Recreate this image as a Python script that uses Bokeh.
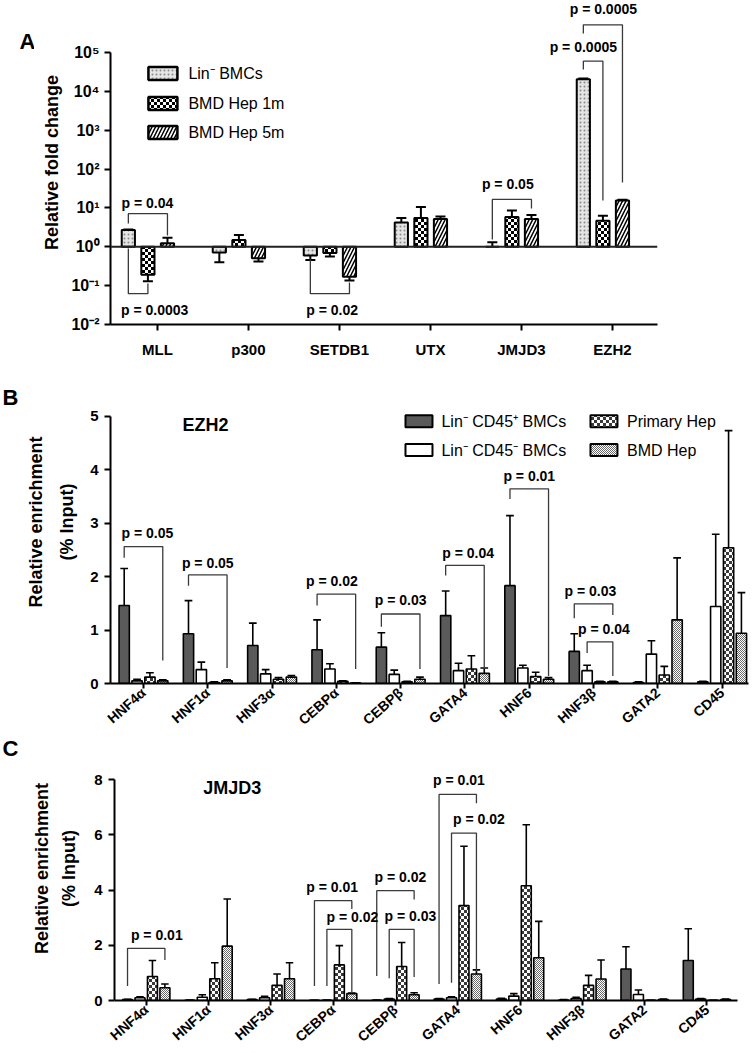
import base64
from bokeh.plotting import figure
from bokeh.models import Range1d, FixedTicker, Span, ImageURLTexture
from bokeh.layouts import column, row
from bokeh.embed import file_html
from bokeh.resources import INLINE
from bokeh.core.properties import value

FONT = "Liberation Sans"

# ---------------- Panel A data ----------------
a_targets = ["MLL", "p300", "SETDB1", "UTX", "JMJD3", "EZH2"]
a_series = ["Lin⁻ BMCs", "BMD Hep 1m", "BMD Hep 5m"]
a_lin = [2.7, 0.71, 0.60, 4.2, 1.0, 20400]
a_lin_err = [2.8, 0.40, 0.46, 5.5, 1.3, 21500]
a_1m = [0.19, 1.5, 0.69, 5.5, 5.8, 4.7]
a_1m_err = [0.13, 2.0, 0.56, 10.5, 8.6, 6.3]
a_5m = [1.24, 0.51, 0.17, 5.2, 5.2, 15.5]
a_5m_err = [1.7, 0.42, 0.135, 6.0, 6.6, 16.2]
a_yticks = [1e-2, 1e-1, 1e0, 1e1, 1e2, 1e3, 1e4, 1e5]
a_ylabels = ["10⁻²", "10⁻¹", "10⁰", "10¹", "10²", "10³", "10⁴", "10⁵"]
# brackets: (group, bar_from, bar_to, y_level, y_left_end, y_right_end)
a_brackets = [(0, 0, 2, 7.1, 4.0, 1.95), (0, 0, 1, 0.062, 0.9, 0.114),
              (2, 0, 2, 0.062, 0.48, 0.12), (4, 0, 2, 16.5, 1.54, 9.7),
              (5, 0, 1, 59700, 36500, 15.5), (5, 0, 2, 516000, 308000, 45)]
a_pvals = ["p = 0.04", "p = 0.0003", "p = 0.02", "p = 0.05", "p = 0.0005", "p = 0.0005"]
a_ptext_x = [-0.11, -0.03, 1.92, 3.85, 4.68, 4.90]
a_ptext_y = [13, 0.023, 0.023, 42, 137000, 1.35e6]
a_leg_y = [28800, 4860, 873]

# ---------------- Panel B / C data ----------------
genes = ["HNF4α", "HNF1α", "HNF3α", "CEBPα", "CEBPβ", "GATA4", "HNF6", "HNF3β", "GATA2", "CD45"]
bc_series = ["Lin⁻ CD45⁺ BMCs", "Lin⁻ CD45⁻ BMCs", "Primary Hep", "BMD Hep"]

b_pos = [1.46, 0.93, 0.71, 0.63, 0.68, 1.27, 1.83, 0.60, 0.02, 0.03]
b_pos_err = [2.15, 1.55, 1.13, 1.19, 0.95, 1.73, 3.14, 0.93, 0.03, 0.04]
b_neg = [0.05, 0.26, 0.18, 0.27, 0.17, 0.24, 0.29, 0.24, 0.55, 1.44]
b_neg_err = [0.08, 0.40, 0.26, 0.37, 0.25, 0.38, 0.34, 0.34, 0.80, 2.79]
b_prim = [0.12, 0.02, 0.08, 0.04, 0.03, 0.27, 0.13, 0.03, 0.16, 2.54]
b_prim_err = [0.20, 0.03, 0.11, 0.05, 0.04, 0.52, 0.21, 0.04, 0.32, 4.73]
b_bmd = [0.05, 0.05, 0.12, 0.01, 0.08, 0.19, 0.08, 0.03, 1.19, 0.94]
b_bmd_err = [0.07, 0.07, 0.15, 0.015, 0.12, 0.29, 0.11, 0.04, 2.35, 1.70]
b_yticks = [0, 1, 2, 3, 4, 5]
b_brackets = [(0, 0, 3, 2.56, 2.35, 0.43), (1, 0, 3, 2.03, 1.83, 0.29),
              (3, 0, 3, 1.67, 1.46, 0.27), (4, 0, 3, 1.30, 1.06, 0.27),
              (5, 0, 3, 2.21, 2.02, 0.27), (6, 0, 3, 3.64, 3.45, 0.14),
              (7, 0, 3, 1.49, 1.22, 1.28), (7, 1, 3, 0.78, 0.57, 0.14)]
b_pvals = ["p = 0.05", "p = 0.05", "p = 0.02", "p = 0.03", "p = 0.04", "p = 0.01", "p = 0.03", "p = 0.04"]
b_ptext_x = [0.06, 1.0, 2.93, 4.0, 5.05, 6.0, 6.95, 7.16]
b_ptext_y = [2.81, 2.26, 1.91, 1.56, 2.44, 3.88, 1.73, 1.01]
b_leg_y = [4.904, 4.365]

c_pos = [0.03, 0.01, 0.03, 0.005, 0.01, 0.05, 0.05, 0.02, 1.14, 1.45]
c_pos_err = [0.04, 0.02, 0.04, 0.01, 0.02, 0.07, 0.08, 0.03, 1.95, 2.60]
c_neg = [0.10, 0.12, 0.10, 0.01, 0.05, 0.10, 0.16, 0.07, 0.22, 0.05]
c_neg_err = [0.13, 0.21, 0.15, 0.02, 0.07, 0.13, 0.25, 0.12, 0.38, 0.07]
c_prim = [0.87, 0.79, 0.55, 1.29, 1.23, 3.44, 4.16, 0.55, 0.005, 0.005]
c_prim_err = [1.45, 1.37, 0.96, 1.99, 2.10, 5.59, 6.37, 0.91, 0.01, 0.01]
c_bmd = [0.46, 1.97, 0.79, 0.25, 0.21, 0.96, 1.55, 0.78, 0.03, 0.03]
c_bmd_err = [0.60, 3.68, 1.37, 0.27, 0.28, 1.11, 2.87, 1.47, 0.05, 0.05]
c_yticks = [0, 2, 4, 6, 8]
c_brackets = [(0, 0, 3, 1.89, 0.53, 1.47), (3, 0, 3, 3.62, 0.53, 3.32),
              (3, 1, 3, 2.58, 0.53, 0.28), (4, 0, 3, 3.98, 0.89, 3.66),
              (4, 1, 3, 2.58, 0.81, 0.85), (5, 0, 3, 7.47, 0.60, 7.15),
              (5, 1, 3, 6.07, 0.64, 1.05)]
c_pvals = ["p = 0.01", "p = 0.01", "p = 0.02", "p = 0.02", "p = 0.03", "p = 0.01", "p = 0.02"]
c_ptext_x = [0.17, 2.985, 3.31, 4.08, 4.24, 5.02, 5.34]
c_ptext_y = [2.37, 4.1, 3.03, 4.46, 3.06, 7.98, 6.57]

panel_letters = ["A", "B", "C"]


# ---------------- textures ----------------
def checker_tex(cell, color):
    s = cell * 2
    svg = (f"<svg xmlns='http://www.w3.org/2000/svg' width='{s}' height='{s}'>"
           f"<rect width='{s}' height='{s}' fill='white'/>"
           f"<rect width='{cell}' height='{cell}' fill='{color}'/>"
           f"<rect x='{cell}' y='{cell}' width='{cell}' height='{cell}' fill='{color}'/></svg>")
    return ImageURLTexture(url="data:image/svg+xml;base64," + base64.b64encode(svg.encode()).decode())


TEX_A = checker_tex(3, "black")
TEX_PRIM = checker_tex(3, "#3a3a3a")
TEX_BMD = checker_tex(1, "#6a6a6a")


def style_axes(p, tick_fs, xlabel_fs):
    for ax in [p.xaxis[0], p.yaxis[0]]:
        ax.axis_line_width = 2
        ax.axis_line_color = "black"
        ax.major_tick_line_width = 2
        ax.major_tick_line_color = "black"
        ax.major_tick_in = 0
        ax.major_tick_out = 6
        ax.minor_tick_line_color = None
        ax.major_label_text_font = FONT
        ax.major_label_text_font_style = "bold"
        ax.major_label_text_color = "black"
        ax.axis_label_text_font = FONT
        ax.axis_label_text_font_style = "bold"
        ax.axis_label_text_color = "black"
        ax.axis_label_text_font_size = "18px"
    p.yaxis[0].major_label_text_font_size = tick_fs
    p.xaxis[0].major_label_text_font_size = xlabel_fs
    p.xgrid.grid_line_color = None
    p.ygrid.grid_line_color = None
    p.outline_line_color = None
    p.background_fill_color = "white"
    p.border_fill_color = "white"


def add_series(p, vals, errs, offset, width, base, cap, lw, style):
    xs = [i + offset for i in range(len(vals))]
    r = p.vbar(x=xs, top=vals, bottom=base, width=width, line_color="black",
               line_width=lw, **style)
    p.segment(x0=xs, y0=vals, x1=xs, y1=errs, line_color="black", line_width=lw)
    p.segment(x0=[x - cap for x in xs], y0=errs, x1=[x + cap for x in xs], y1=errs,
              line_color="black", line_width=lw)
    return r


def add_brackets(p, brackets, offsets, pvals, px, py, fs):
    xs, ys = [], []
    for g, i, j, y, yl, yr in brackets:
        xl = g + offsets[i]
        xr = g + offsets[j]
        xs.append([xl, xl, xr, xr])
        ys.append([yl, y, y, yr])
    p.multi_line(xs=xs, ys=ys, line_color="#3a3a3a", line_width=1.3)
    p.text(x=px, y=py, text=pvals, text_align="center", text_baseline="middle",
           text_font=value(FONT), text_font_style="bold", text_font_size=fs,
           text_color="black")


def add_text(p, x, y, t, fs, bold=True, align="center"):
    p.text(x=[x], y=[y], text=[t], text_align=align, text_baseline="middle",
           text_font=value(FONT), text_font_style="bold" if bold else "normal",
           text_font_size=fs, text_color="black")


def manual_legend(p, sw_x, txt_x, ys, styles, labels, w, h, lw):
    for y, st, lab in zip(ys, styles, labels):
        p.rect(x=[sw_x], y=[y], width=w, height=h, width_units="screen",
               height_units="screen", line_color="black", line_width=lw, **st)
        add_text(p, txt_x, y, lab, "16px", bold=False, align="left")


def letter_fig(w, h, x, y, t):
    f = figure(width=w, height=h, x_range=Range1d(0, w), y_range=Range1d(h, 0),
               output_backend="svg", toolbar_location=None,
               x_axis_location=None, y_axis_location=None,
               min_border_left=0, min_border_right=0, min_border_top=0, min_border_bottom=0)
    f.xgrid.grid_line_color = None
    f.ygrid.grid_line_color = None
    f.outline_line_color = None
    add_text(f, x, y, t, "22px")
    return f


# ---------------- Panel A ----------------
LA = 34
pa = figure(width=755 - LA, height=360, x_range=Range1d(-0.516, 5.495),
            y_range=Range1d(1e-2, 10 ** 6.338), y_axis_type="log",
            output_backend="svg", toolbar_location=None,
            min_border_left=110 - LA, min_border_right=98, min_border_top=0,
            min_border_bottom=36)
style_axes(pa, "16px", "15px")
pa.yaxis[0].ticker = FixedTicker(ticks=a_yticks)
pa.yaxis[0].major_label_overrides = {t: l for t, l in zip(a_yticks, a_ylabels)}
pa.yaxis[0].bounds = (1e-2, 1e5)
pa.yaxis[0].axis_label = "Relative fold change"
pa.yaxis[0].axis_label_standoff = 6
pa.yaxis[0].major_label_standoff = 5
pa.xaxis[0].ticker = FixedTicker(ticks=list(range(len(a_targets))))
pa.xaxis[0].major_label_overrides = {i: n for i, n in enumerate(a_targets)}
pa.xaxis[0].major_label_standoff = 10

a_off = [-0.32, -0.105, 0.11]
aw = 0.145
a_styles = [dict(fill_color="#e4e4e4", hatch_pattern="dot", hatch_color="#8a8a8a",
                 hatch_scale=4, hatch_weight=1.2),
            dict(fill_color="white", hatch_pattern=value("chkA"), hatch_extra={"chkA": TEX_A}),
            dict(fill_color="white", hatch_pattern="right_diagonal_line",
                 hatch_color="black", hatch_scale=7, hatch_weight=1.5)]
for vals, errs, off, st in zip([a_lin, a_1m, a_5m], [a_lin_err, a_1m_err, a_5m_err], a_off, a_styles):
    add_series(pa, vals, errs, off, aw, 1, 0.055, 2, st)
pa.add_layout(Span(location=1, dimension="width", line_color="#222222", line_width=2))
add_brackets(pa, a_brackets, a_off, a_pvals, a_ptext_x, a_ptext_y, "14px")
manual_legend(pa, 0.06, 0.34, a_leg_y, a_styles, a_series, 29, 13, 2.5)

# ---------------- Panel B / C builder ----------------
bc_off = [-0.3, -0.1, 0.1, 0.3]
bw = 0.16
bc_styles = [dict(fill_color="#5a5a5a"),
             dict(fill_color="white"),
             dict(fill_color="white", hatch_pattern=value("chkP"), hatch_extra={"chkP": TEX_PRIM}),
             dict(fill_color="white", hatch_pattern=value("chkB"), hatch_extra={"chkB": TEX_BMD})]


def build_bc(lw_fig, height, frame_h, xr, yr, left, right, yticks, vals, errs, brackets,
             pvals, px, py, title, title_xy, lab_standoff, lab_lh):
    p = figure(width=755 - lw_fig, height=height, x_range=Range1d(*xr), y_range=Range1d(*yr),
               output_backend="svg", toolbar_location=None,
               min_border_left=left - lw_fig, min_border_right=right, min_border_top=0,
               min_border_bottom=height - frame_h)
    style_axes(p, "15px", "14px")
    p.yaxis[0].ticker = FixedTicker(ticks=yticks)
    p.yaxis[0].bounds = (yticks[0], yticks[-1])
    p.yaxis[0].axis_label = "Relative enrichment\n(% Input)"
    p.yaxis[0].axis_label_standoff = lab_standoff
    p.yaxis[0].axis_label_text_line_height = lab_lh
    p.yaxis[0].major_label_standoff = 6
    p.xaxis[0].ticker = FixedTicker(ticks=list(range(len(genes))))
    p.xaxis[0].major_label_overrides = {i: n for i, n in enumerate(genes)}
    p.xaxis[0].major_label_orientation = 0.72
    p.xaxis[0].major_label_standoff = 2
    p.xaxis[0].major_tick_out = 5
    for k, st in enumerate(bc_styles):
        add_series(p, vals[k], errs[k], bc_off[k], bw, 0, 0.06, 1.6, st)
    add_brackets(p, brackets, bc_off, pvals, px, py, "14px")
    add_text(p, title_xy[0], title_xy[1], title, "18px")
    return p


LB = 18
HB = 376
pb = build_bc(LB, HB, 328, (-0.513, 9.41), (0, 328 / 54.3), 110, 7, b_yticks,
              [b_pos, b_neg, b_prim, b_bmd], [b_pos_err, b_neg_err, b_prim_err, b_bmd_err],
              b_brackets, b_pvals, b_ptext_x, b_ptext_y, "EZH2", (0.964, 4.84), 10, 1.55)
manual_legend(pb, 4.285, 4.634, b_leg_y, bc_styles[:2], bc_series[:2], 27, 12, 2)
manual_legend(pb, 7.162, 7.52, b_leg_y, bc_styles[2:], bc_series[2:], 27, 12, 2)

LC = 20
HC = 1053 - 360 - HB
FC = 1003 - 360 - HB
pc = build_bc(LC, HC, FC, (-0.509, 9.49), (0, FC / 27.9), 114, 18, c_yticks,
              [c_pos, c_neg, c_prim, c_bmd], [c_pos_err, c_neg_err, c_prim_err, c_bmd_err],
              c_brackets, c_pvals, c_ptext_x, c_ptext_y, "JMJD3", (1.38, 7.70), 12, 1.35)

la = letter_fig(LA, 360, 27, 45, panel_letters[0])
lb = letter_fig(LB, HB, 10, 43, panel_letters[1])
lc = letter_fig(LC, HC, 10, 15, panel_letters[2])

layout = column(row(la, pa, spacing=0), row(lb, pb, spacing=0), row(lc, pc, spacing=0), spacing=0)
open("out.html", "w").write(file_html(layout, INLINE))
